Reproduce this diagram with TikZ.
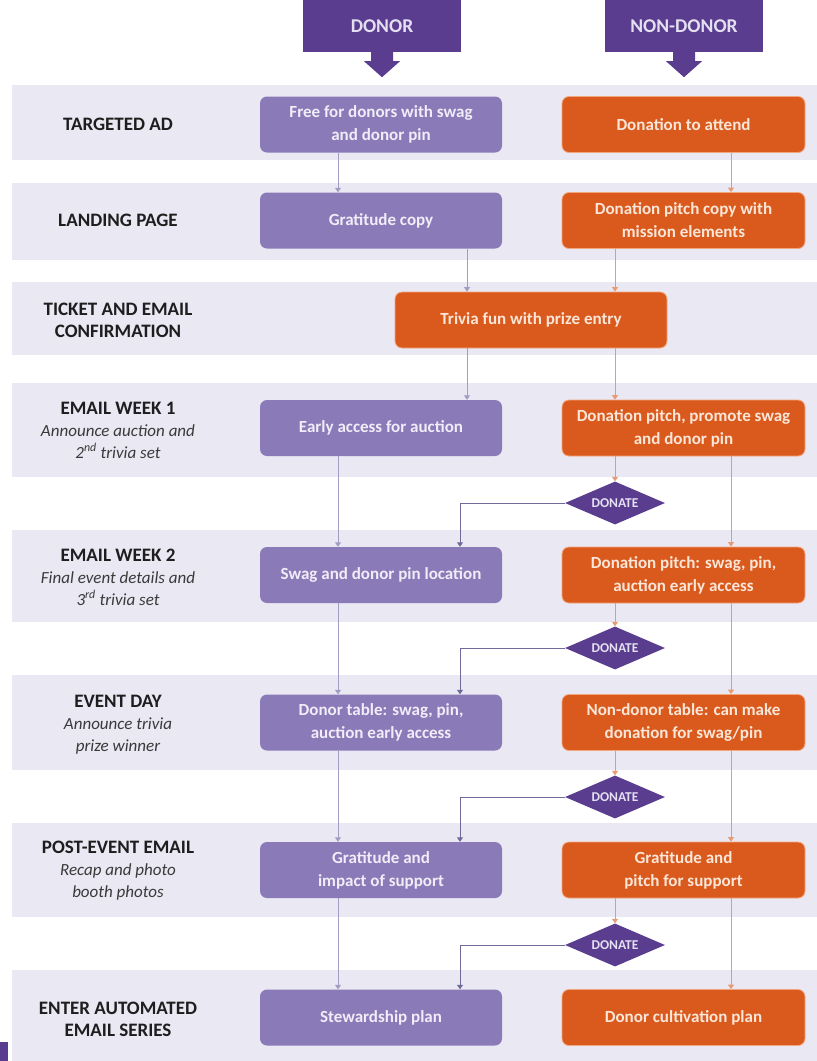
\documentclass[tikz,border=0pt]{standalone}
\usepackage{fontspec}
\setmainfont{Carlito}
\usetikzlibrary{shapes.geometric,arrows.meta,calc}
\definecolor{bandc}{HTML}{E9E8F3}
\definecolor{pboxc}{HTML}{8B7AB8}
\definecolor{ptext}{HTML}{F0EDF8}
\definecolor{oboxc}{HTML}{DA5A1E}
\definecolor{oborder}{HTML}{F3A67E}
\definecolor{otext}{HTML}{FBE6D8}
\definecolor{hdrc}{HTML}{5A3D8F}
\definecolor{hdrtext}{HTML}{E4E0F2}
\definecolor{lblc}{HTML}{1E1E1E}
\definecolor{subc}{HTML}{3A3A3A}
\definecolor{plinec}{HTML}{A19DC3}
\definecolor{dlinec}{HTML}{6E6A9A}
\definecolor{olinec}{HTML}{E89A72}
\newcommand{\subl}[1]{{\mdseries\itshape\fontsize{17}{22}\selectfont\color{subc}#1}}
\begin{document}
\begin{tikzpicture}[x=1pt,y=-1pt,
  band/.style={fill=bandc,draw=none},
  boxbase/.style={rectangle,rounded corners=7pt,font=\bfseries\fontsize{17}{23}\selectfont,align=center,minimum height=56pt,inner sep=2pt},
  pbox/.style={boxbase,fill=pboxc,text=ptext,minimum width=242pt},
  obox/.style={boxbase,fill=oboxc,draw=oborder,line width=0.8pt,text=otext,minimum width=243pt},
  lbl/.style={font=\bfseries\fontsize{19}{22}\selectfont,text=lblc,align=center},
  hdr/.style={rectangle,fill=hdrc,text=hdrtext,font=\bfseries\fontsize{19.5}{22}\selectfont,minimum width=158pt,minimum height=52pt,inner sep=0pt},
  dia/.style={diamond,fill=hdrc,text=hdrtext,font=\bfseries\fontsize{13.5}{14}\selectfont,minimum width=100pt,minimum height=43pt,inner sep=0pt,aspect=2.3},
  parr/.style={draw=plinec,line width=1pt,-{Triangle[width=6pt,length=4.5pt]}},
  oarr/.style={draw=olinec,line width=1pt,-{Triangle[width=6pt,length=4.5pt]}},
  darr/.style={draw=dlinec,line width=1pt,-{Triangle[width=6pt,length=4.5pt]}}
]
\useasboundingbox (0,0) rectangle (817,1061);
\fill[white] (0,0) rectangle (817,1061);
% bands
\fill[band] (12,85) rectangle (817,160);
\fill[band] (12,183) rectangle (817,260);
\fill[band] (12,282) rectangle (817,355);
\fill[band] (12,383) rectangle (817,477);
\fill[band] (12,530) rectangle (817,622);
\fill[band] (12,675) rectangle (817,770);
\fill[band] (12,823) rectangle (817,917);
\fill[band] (12,970) rectangle (817,1061);
\fill[hdrc] (0,1042) rectangle (8,1061);

% headers
\node[hdr] (h1) at (382,26) {DONOR};
\node[hdr] (h2) at (684,26) {NON-DONOR};
\foreach \h in {h1,h2}{
  \fill[hdrc] ($(\h.south)+(-11,0)$) -- ++(0,9) -- ++(-7,0) -- ($(\h.south)+(0,25)$) -- ++(18,-16) -- ++(-7,0) -- ++(0,-9) -- cycle;
}

% labels
\node[lbl] (l1) at (118,124.5) {TARGETED AD};
\node[lbl] (l2) at (118,220.5) {LANDING PAGE};
\node[lbl] (l3) at (118,320) {TICKET AND EMAIL\\CONFIRMATION};
\node[lbl] (l4) at (118,430) {EMAIL WEEK 1\\\subl{Announce auction and}\\\subl{2\textsuperscript{nd} trivia set}};
\node[lbl] (l5) at (118,577) {EMAIL WEEK 2\\\subl{Final event details and}\\\subl{3\textsuperscript{rd} trivia set}};
\node[lbl] (l6) at (118,725) {EVENT DAY\\\subl{Announce trivia}\\\subl{prize winner}};
\node[lbl] (l7) at (118,871) {POST-EVENT EMAIL\\\subl{Recap and photo}\\\subl{booth photos}};
\node[lbl] (l8) at (118,1019) {ENTER AUTOMATED\\EMAIL SERIES};

% donor boxes
\node[pbox] (d1) at (381,124.5) {Free for donors with swag\\and donor pin};
\node[pbox] (d2) at (381,220.5) {Gratitude copy};
\node[obox,minimum width=272pt] (t3) at (531,320) {Trivia fun with prize entry};
\node[pbox] (d4) at (381,428) {Early access for auction};
\node[pbox] (d5) at (381,575) {Swag and donor pin location};
\node[pbox] (d6) at (381,722.5) {Donor table: swag, pin,\\auction early access};
\node[pbox] (d7) at (381,870) {Gratitude and\\impact of support};
\node[pbox] (d8) at (381,1017.5) {Stewardship plan};

% non-donor boxes
\node[obox] (o1) at (683.5,124.5) {Donation to attend};
\node[obox] (o2) at (683.5,220.5) {Donation pitch copy with\\mission elements};
\node[obox] (o4) at (683.5,428) {Donation pitch, promote swag\\and donor pin};
\node[obox] (o5) at (683.5,575) {Donation pitch: swag, pin,\\auction early access};
\node[obox] (o6) at (683.5,722.5) {Non-donor table: can make\\donation for swag/pin};
\node[obox] (o7) at (683.5,870) {Gratitude and\\pitch for support};
\node[obox] (o8) at (683.5,1017.5) {Donor cultivation plan};

% diamonds
\node[dia] (n1) at (615,503) {DONATE};
\node[dia] (n2) at (615,648) {DONATE};
\node[dia] (n3) at (615,797) {DONATE};
\node[dia] (n4) at (615,945) {DONATE};

% column coordinates
\coordinate (cL) at (338,0);
\coordinate (cM) at (467,0);
\coordinate (cN) at (615,0);
\coordinate (cR) at (731,0);
\coordinate (cD) at (460,0);

% connectors
\draw[parr] (d1.south -| cL) -- (d2.north -| cL);
\draw[oarr] (o1.south -| cR) -- (o2.north -| cR);
\draw[parr] (d2.south -| cM) -- (t3.north -| cM);
\draw[oarr] (o2.south -| cN) -- (t3.north -| cN);
\draw[parr] (t3.south -| cM) -- (d4.north -| cM);
\draw[oarr] (t3.south -| cN) -- (o4.north -| cN);

\draw[parr] (d4.south -| cL) -- (d5.north -| cL);
\draw[oarr] (o4.south -| cN) -- (n1.north);
\draw[oarr] (o4.south -| cR) -- (o5.north -| cR);
\draw[darr] (n1.west) -| (d5.north -| cD);

\draw[parr] (d5.south -| cL) -- (d6.north -| cL);
\draw[oarr] (o5.south -| cN) -- (n2.north);
\draw[oarr] (o5.south -| cR) -- (o6.north -| cR);
\draw[darr] (n2.west) -| (d6.north -| cD);

\draw[parr] (d6.south -| cL) -- (d7.north -| cL);
\draw[oarr] (o6.south -| cN) -- (n3.north);
\draw[oarr] (o6.south -| cR) -- (o7.north -| cR);
\draw[darr] (n3.west) -| (d7.north -| cD);

\draw[parr] (d7.south -| cL) -- (d8.north -| cL);
\draw[oarr] (o7.south -| cN) -- (n4.north);
\draw[oarr] (o7.south -| cR) -- (o8.north -| cR);
\draw[darr] (n4.west) -| (d8.north -| cD);
\end{tikzpicture}
\end{document}
